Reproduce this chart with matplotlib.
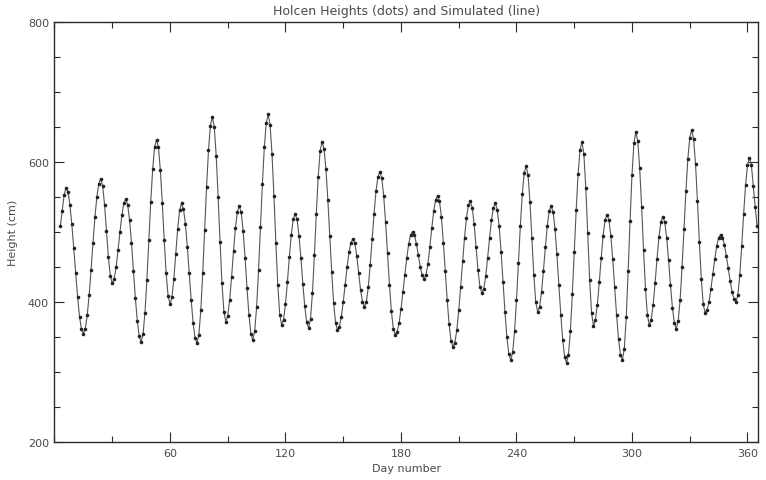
import numpy as np
import matplotlib
matplotlib.use("Agg")
import matplotlib.pyplot as plt
from matplotlib.ticker import MultipleLocator

# ---- data ----
first_day = 3
heights = [
    508, 530, 553, 563,
    557, 539, 511, 477, 441, 407, 379, 361, 355,
    362, 381, 410, 446, 485, 521, 550, 569, 576,
    566, 539, 502, 464, 437, 427,
    433, 450, 474, 500, 524, 541, 547,
    539, 517, 484, 445, 406, 373, 351, 343,
    354, 385, 432, 488, 543, 590, 621, 632,
    621, 588, 541, 488, 441, 409, 397,
    407, 433, 469, 505, 531, 541,
    533, 512, 479, 441, 403, 370, 349, 341,
    353, 388, 441, 503, 564, 617, 652, 664,
    650, 609, 550, 486, 427, 386, 372,
    380, 403, 436, 473, 506, 529, 537,
    528, 501, 463, 420, 382, 355, 346,
    358, 393, 446, 507, 569, 621, 656, 668,
    653, 611, 551, 484, 424, 382, 367,
    375, 397, 429, 464, 496, 518, 526,
    518, 495, 463, 426, 394, 371, 363,
    376, 413, 467, 526, 579, 616, 629,
    619, 590, 546, 495, 443, 399, 370, 360,
    365, 379, 400, 425, 450, 471, 485, 490,
    484, 466, 442, 417, 400, 393,
    400, 421, 453, 490, 526, 558, 579, 586,
    577, 552, 514, 470, 425, 387, 362, 353,
    357, 370, 390, 414, 439, 463, 483, 496, 500,
    496, 483, 467, 450, 438, 433,
    439, 455, 479, 506, 530, 546, 552,
    544, 521, 485, 444, 403, 368, 344, 336,
    342, 360, 388, 422, 458, 492, 520, 538, 544,
    535, 511, 479, 446, 422, 413,
    419, 437, 463, 491, 517, 535, 541,
    532, 508, 472, 429, 386, 350, 326, 317,
    328, 358, 403, 456, 509, 554, 584, 595,
    581, 543, 491, 438, 400, 386,
    393, 414, 445, 478, 509, 530, 537,
    529, 504, 468, 425, 382, 346, 322, 313,
    325, 359, 411, 471, 531, 583, 617, 629,
    611, 563, 498, 432, 384, 366,
    374, 396, 428, 463, 495, 517, 525,
    517, 495, 461, 421, 381, 347, 325, 317,
    333, 378, 444, 516, 582, 627, 643,
    630, 591, 536, 474, 419, 381, 367,
    375, 396, 427, 462, 493, 514, 522,
    514, 492, 460, 424, 392, 370, 362,
    373, 403, 450, 504, 558, 604, 635, 646,
    633, 597, 544, 486, 433, 397, 384,
    388, 400, 419, 440, 461, 480, 492, 496,
    492, 482, 466, 448, 430, 414, 404, 400,
    410, 439, 480, 526, 567, 596, 606,
    596, 566, 536, 508,
]
days = np.arange(first_day, first_day + len(heights))

x_ticks = [60, 120, 180, 240, 300, 360]
y_ticks = [200, 400, 600, 800]

title = "Holcen Heights (dots) and Simulated (line)"
xlabel = "Day number"
ylabel = "Height (cm)"

# ---- figure ----
W, H = 766, 481
fig = plt.figure(figsize=(W / 100, H / 100), dpi=100)
left, right, top, bottom = 54.5, 757.7, 23, 443
ax = fig.add_axes([left / W, 1 - bottom / H, (right - left) / W, (bottom - top) / H])

ink = "#2a2a2a"
txt = "#4a4a4a"

ax.plot(days, heights, color="#555555", lw=0.8, zorder=2)
ax.plot(days, heights, linestyle="none", marker="o", ms=2.6,
        mfc="#222222", mec="#222222", mew=0, zorder=3)

ax.set_xlim(0, 365.3)
ax.set_ylim(200, 800)

ax.set_xticks(x_ticks)
ax.set_xticklabels([str(v) for v in x_ticks])
ax.xaxis.set_minor_locator(MultipleLocator(30))
ax.set_yticks(y_ticks)
ax.set_yticklabels([str(v) for v in y_ticks])
ax.yaxis.set_minor_locator(MultipleLocator(50))

ax.tick_params(which="both", direction="in", top=True, right=True,
               colors=ink, labelcolor=txt, labelsize=8, width=0.8)
ax.tick_params(which="major", length=7, pad=4)
ax.tick_params(which="minor", length=4)

for s in ax.spines.values():
    s.set_color(ink)
    s.set_linewidth(1.0)

ax.set_title(title, fontsize=9, color=txt, pad=6)
ax.set_xlabel(xlabel, fontsize=8, color=txt, labelpad=4)
ax.set_ylabel(ylabel, fontsize=8, color=txt, labelpad=7)

fig.savefig("out.png", dpi=100, facecolor="white")
